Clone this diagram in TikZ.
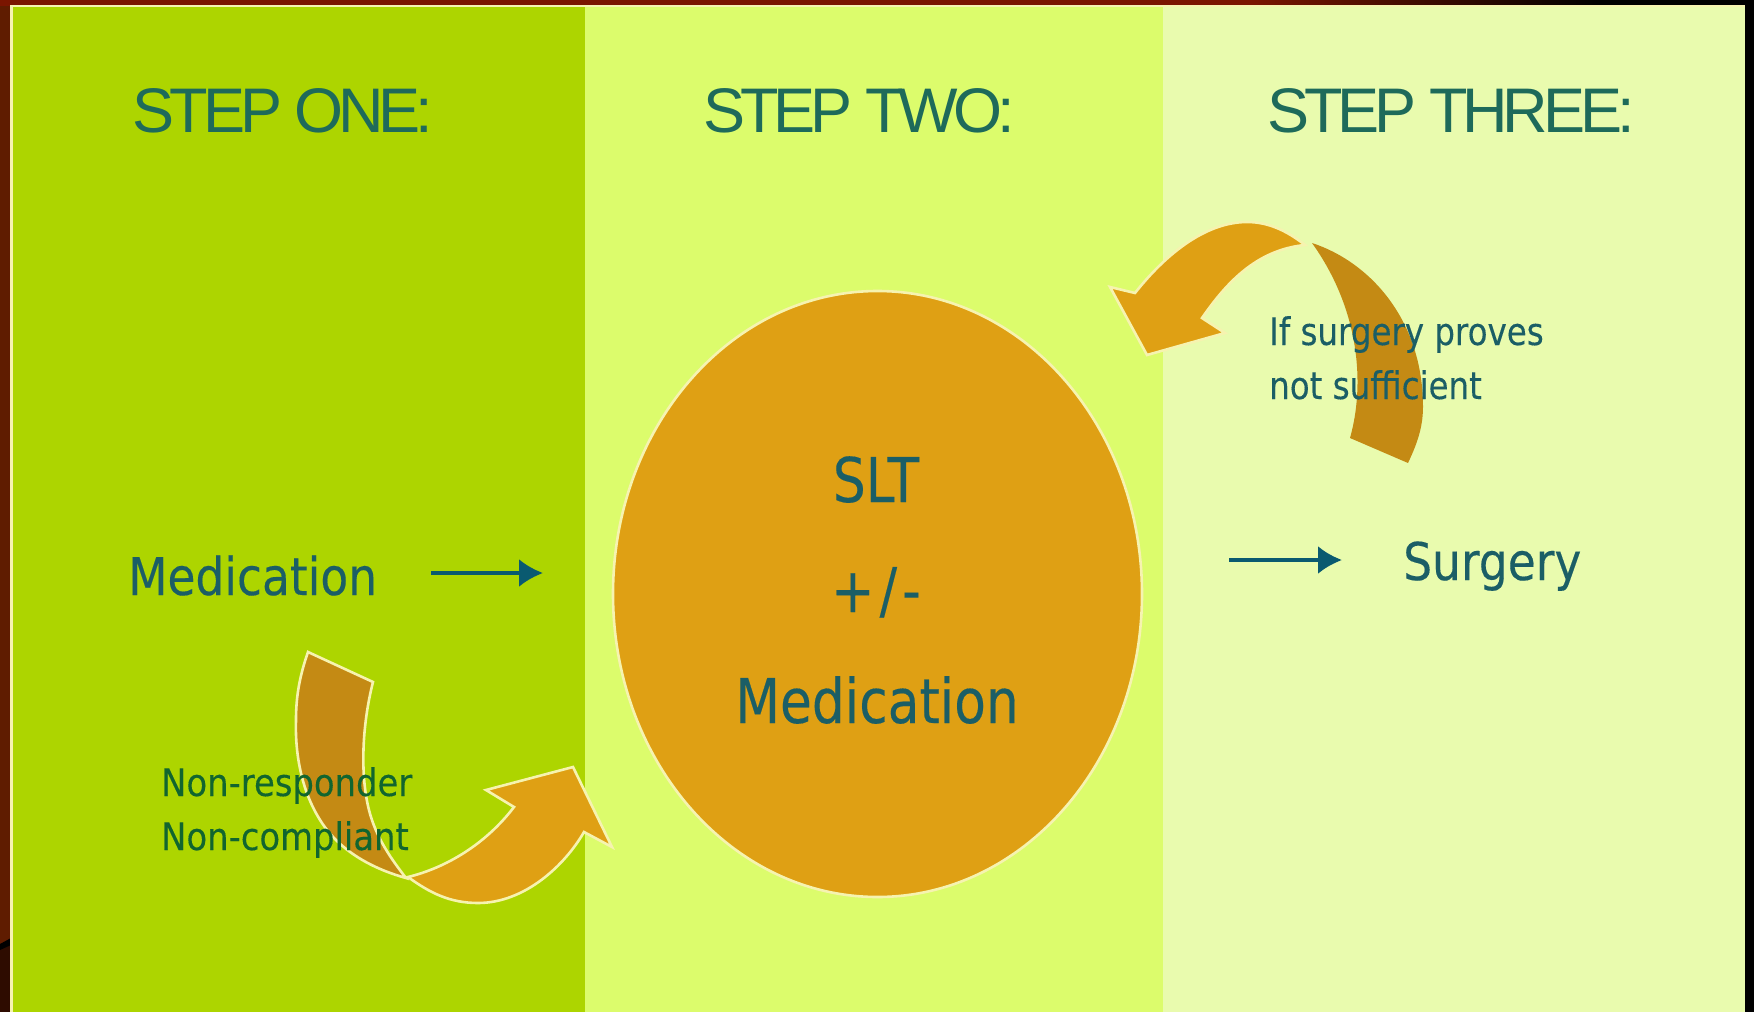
\documentclass[tikz,border=0pt]{standalone}
\usepackage{fontspec}
\setmainfont{DejaVu Sans}
\newfontfamily\headfont[LetterSpace=-8]{Liberation Sans}
\newfontfamily\bodyfont[FakeStretch=0.875,FakeBold=0.25]{DejaVu Sans}
\newfontfamily\bigfont[FakeStretch=0.84,FakeBold=0.25]{DejaVu Sans}
\newfontfamily\smallfont[FakeStretch=0.89,FakeBold=0.2]{DejaVu Sans}
\newfontfamily\smallerfont[FakeStretch=0.855,FakeBold=0.2]{DejaVu Sans}
\usetikzlibrary{arrows.meta,shapes.geometric}
\definecolor{bgred}{HTML}{5F1C00}
\definecolor{topred}{HTML}{7A1500}
\definecolor{bgdark}{HTML}{2E0C00}
\definecolor{panela}{HTML}{ADD500}
\definecolor{panelb}{HTML}{DCFC6C}
\definecolor{panelc}{HTML}{E9FBAE}
\definecolor{orangea}{HTML}{DFA014}
\definecolor{oranged}{HTML}{C48A14}
\definecolor{edgecream}{HTML}{F6F3B0}
\definecolor{inkhead}{HTML}{1E6A5A}
\definecolor{inkbody}{HTML}{1B5E66}
\definecolor{inkgreen}{HTML}{11652F}
\definecolor{arrowink}{HTML}{0A5A70}
\tikzset{
  headtext/.style={text=inkhead,font=\headfont\fontsize{63}{63}\selectfont,inner sep=0pt,anchor=base},
  bodytext/.style={text=inkbody,font=\bodyfont\fontsize{52}{52}\selectfont,inner sep=0pt,anchor=base west},
  bigtext/.style={text=inkbody,font=\bigfont\fontsize{61.7}{61.7}\selectfont,inner sep=0pt,anchor=base},
  smalltext/.style={text=inkgreen,font=\smallfont\fontsize{38}{38}\selectfont,inner sep=0pt,anchor=base west},
  smallertext/.style={text=inkbody,font=\smallerfont\fontsize{38}{38}\selectfont,inner sep=0pt,anchor=base west},
  flow/.style={draw=arrowink,line width=3.4pt,-{Latex[length=24pt,width=28pt]}},
  curvearrow/.style={draw=edgecream,line width=2.6pt,line join=miter}
}
\begin{document}
\begin{tikzpicture}[x=1pt,y=-1pt]
\useasboundingbox (0,0) rectangle (1754,1012);
% backdrop
\fill[bgred] (0,0) rectangle (1754,1012);
\fill[topred] (0,0) rectangle (1250,6);
\shade[left color=topred,right color=black] (1250,0) rectangle (1600,6);
\fill[black] (1600,0) rectangle (1754,6);
\fill[black] (1745,0) rectangle (1754,1012);
\fill[bgdark] (0,947) -- (11,938) -- (11,1012) -- (0,1012) -- cycle;
\fill[black] (0,944) -- (11,938) -- (11,945) -- (0,950) -- cycle;
% panels
\fill[edgecream] (10,5) rectangle (1745,1012);
\fill[panela] (13,7) rectangle (585,1012);
\fill[panelb] (585,7) rectangle (1163,1012);
\fill[panelc] (1163,7) rectangle (1745,1012);
% centre disc
\node[draw=edgecream,line width=2.6pt,fill=orangea,ellipse,inner sep=0pt,minimum width=529pt,minimum height=606pt] (disc) at (877.5,594) {};
% lower curved arrow
\path[curvearrow,fill=oranged] (308,652) -- (373,682)
  .. controls (362,725) and (360,775) .. (369,810)
  .. controls (376,838) and (392,860) .. (406,878)
  .. controls (370,868) and (340,850) .. (322,823)
  .. controls (300,790) and (295,750) .. (296,720)
  .. controls (296,695) and (300,675) .. (308,652) -- cycle;
\path[curvearrow,fill=orangea] (408,877)
  .. controls (445,868) and (485,845) .. (514,807)
  -- (486,790) -- (573,767) -- (612,847) -- (584,832)
  .. controls (565,865) and (525,903) .. (478,903)
  .. controls (450,903) and (430,893) .. (408,877) -- cycle;
% upper curved arrow
\path[curvearrow,fill=orangea] (1305,245)
  .. controls (1280,225) and (1260,222) .. (1247,222)
  .. controls (1205,222) and (1165,255) .. (1135,293)
  -- (1110,287) -- (1147,355) -- (1225,333) -- (1202,318)
  .. controls (1225,285) and (1255,250) .. (1305,245) -- cycle;
\path[draw=none,fill=oranged] (1312,243)
  .. controls (1370,262) and (1423,320) .. (1423,407)
  .. controls (1423,430) and (1415,448) .. (1408,463)
  -- (1350,438)
  .. controls (1365,385) and (1360,310) .. (1312,243) -- cycle;
% headings
\node[headtext] (one) at (283,132) {STEP ONE:};
\node[headtext] (two) at (859,132) {STEP TWO:};
\node[headtext] (three) at (1451,132) {STEP THREE:};
% step one
\node[bodytext] (med) at (128,595) {Medication};
\coordinate (medend) at (543,573);
\draw[flow] (431,573) -- (medend);
\node[smalltext] (nonr) at (161,796) {Non-responder};
\node[smalltext] (nonc) at (161,850) {Non-compliant};
% step two
\node[bigtext] (slt) at (876,502) {SLT};
\node[bigtext] (pm) at (876,612) {+\kern5pt/\kern5pt-};
\node[bigtext] (med2) at (877,723) {Medication};
% step three
\coordinate (surgstart) at (1229,560);
\node[bodytext] (surg) at (1403,580) {Surgery};
\draw[flow] (surgstart) -- (1342,560);
\node[smallertext] (ifs) at (1269,345) {If surgery proves};
\node[smallertext] (nots) at (1269,399) {not sufficient};
\end{tikzpicture}
\end{document}
